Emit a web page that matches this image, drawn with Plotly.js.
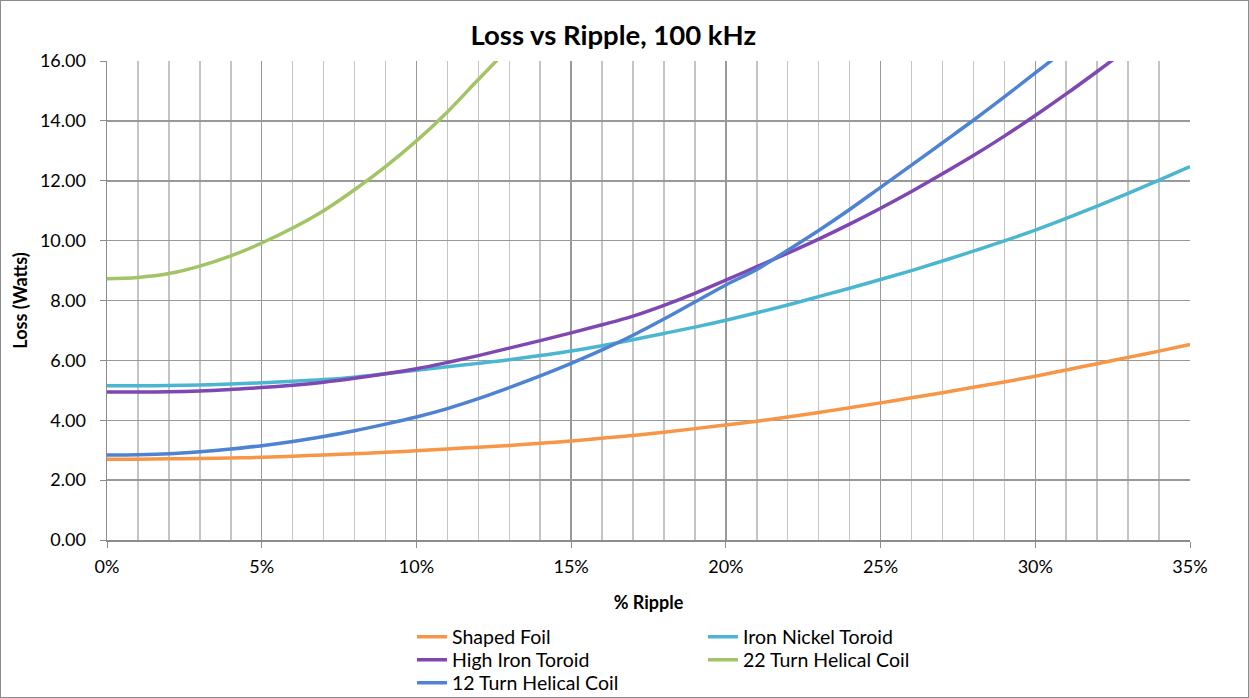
<!DOCTYPE html>
<html>
<head>
<meta charset="utf-8">
<script src="https://cdn.plot.ly/plotly-3.0.1.min.js"></script>
<style>
  html, body { margin: 0; padding: 0; background: #fff; }
  #chart { width: 1249px; height: 698px; }
  #frame { position: absolute; left: 0; top: 0; width: 1247px; height: 696px; border: 1px solid #8c8c8c; pointer-events: none; }
</style>
</head>
<body>
<div id="chart"></div>
<div id="frame"></div>
<script>
// % ripple (fraction), 0% .. 35% in 1% steps
const ripple = [0.00,0.01,0.02,0.03,0.04,0.05,0.06,0.07,0.08,0.09,0.10,0.11,0.12,0.13,0.14,0.15,0.16,0.17,0.18,0.19,0.20,0.21,0.22,0.23,0.24,0.25,0.26,0.27,0.28,0.29,0.30,0.31,0.32,0.33,0.34,0.35];

const shapedFoil = [2.70,2.70,2.71,2.72,2.74,2.76,2.80,2.84,2.88,2.93,2.98,3.04,3.10,3.16,3.23,3.31,3.40,3.49,3.60,3.72,3.84,3.97,4.11,4.26,4.42,4.58,4.75,4.92,5.10,5.28,5.47,5.68,5.89,6.10,6.31,6.53];
const ironNickelToroid = [5.15,5.15,5.16,5.18,5.21,5.25,5.30,5.36,5.44,5.55,5.67,5.79,5.90,6.02,6.16,6.31,6.49,6.69,6.90,7.11,7.34,7.59,7.85,8.13,8.41,8.70,9.00,9.32,9.65,9.99,10.35,10.74,11.15,11.58,12.02,12.47];
const highIronToroid = [4.94,4.94,4.95,4.98,5.03,5.09,5.17,5.27,5.40,5.55,5.72,5.93,6.16,6.41,6.66,6.92,7.19,7.48,7.84,8.24,8.68,9.13,9.58,10.05,10.55,11.08,11.64,12.23,12.84,13.49,14.18,14.90,15.65,16.42];
const turn22Helical = [8.73,8.77,8.90,9.15,9.49,9.92,10.42,11.00,11.70,12.47,13.33,14.30,15.38,16.45];
const turn12Helical = [2.84,2.85,2.88,2.95,3.04,3.15,3.29,3.46,3.65,3.87,4.11,4.39,4.72,5.09,5.48,5.90,6.35,6.84,7.38,7.95,8.52,9.04,9.68,10.34,11.04,11.78,12.52,13.27,14.02,14.80,15.60,16.40];

const seriesNames = ['Shaped Foil','Iron Nickel Toroid','High Iron Toroid','22 Turn Helical Coil','12 Turn Helical Coil'];
const seriesColors = ['#F79646','#4BB6D0','#7E47B2','#A2C465','#4E82D3'];
const seriesValues = [shapedFoil, ironNickelToroid, highIronToroid, turn22Helical, turn12Helical];
const legendIds = ['legend','legend2','legend3','legend4','legend5'];
const yTickVals = [0,2,4,6,8,10,12,14,16];
const xTickVals = [0,0.05,0.10,0.15,0.20,0.25,0.30,0.35];

const FONT = 'Lato, "Open Sans", sans-serif';

const traces = seriesValues.map((vals, i) => ({
  type: 'scatter',
  mode: 'lines',
  name: seriesNames[i],
  x: ripple.slice(0, vals.length),
  y: vals,
  line: { color: seriesColors[i], width: 3.5, shape: 'spline', smoothing: 1 },
  legend: legendIds[i]
}));

// legend slots: [paper x of legend's left edge, paper y of row centre]
const legendSlots = [[0.2816, -0.2025], [0.5503, -0.2025], [0.2816, -0.2505], [0.5503, -0.2505], [0.2816, -0.2985]];

const layout = {
  width: 1249,
  height: 698,
  paper_bgcolor: '#ffffff',
  plot_bgcolor: '#ffffff',
  margin: { l: 107, r: 59, t: 61, b: 158, autoexpand: false },
  font: { family: FONT, size: 18, color: '#000' },
  title: {
    text: '<b>Loss vs Ripple, 100 kHz</b>',
    font: { family: FONT, size: 27.5, color: '#000' },
    x: 0.491, xanchor: 'center', y: 0.95, yanchor: 'middle', yref: 'container'
  },
  xaxis: {
    range: [0, 0.35],
    tickvals: xTickVals,
    tickformat: '.0%',
    showgrid: true,
    gridcolor: '#999999',
    gridwidth: 1.5,
    minor: { dtick: 0.01, showgrid: true, gridcolor: '#c4c4c4', gridwidth: 1.5, ticks: '' },
    showline: true,
    linecolor: '#8c8c8c',
    linewidth: 1.5,
    ticks: 'outside',
    ticklen: 6,
    tickcolor: '#8c8c8c',
    ticklabelstandoff: 4,
    zeroline: false,
    tickfont: { family: FONT, size: 18, color: '#000' },
    title: { text: '<b>% Ripple</b>', font: { family: FONT, size: 18, color: '#000' }, standoff: 20 }
  },
  yaxis: {
    range: [0, 16],
    tickvals: yTickVals,
    tickformat: '.2f',
    showgrid: true,
    gridcolor: '#999999',
    gridwidth: 1.5,
    showline: true,
    linecolor: '#8c8c8c',
    linewidth: 1.5,
    ticks: 'outside',
    ticklen: 6,
    tickcolor: '#8c8c8c',
    ticklabelstandoff: 10,
    zeroline: false,
    tickfont: { family: FONT, size: 18, color: '#000' },
    title: { text: '<b>Loss (Watts)</b>', font: { family: FONT, size: 18, color: '#000' }, standoff: 7 }
  },
  showlegend: true
};

legendIds.forEach((id, i) => {
  layout[id] = {
    x: legendSlots[i][0], xanchor: 'left',
    y: legendSlots[i][1], yanchor: 'middle',
    orientation: 'v',
    font: { family: FONT, size: 19.5, color: '#000' },
    bgcolor: 'rgba(0,0,0,0)',
    borderwidth: 0,
    itemwidth: 30
  };
});

Plotly.newPlot('chart', traces, layout, { displayModeBar: false, staticPlot: true });
</script>
</body>
</html>
